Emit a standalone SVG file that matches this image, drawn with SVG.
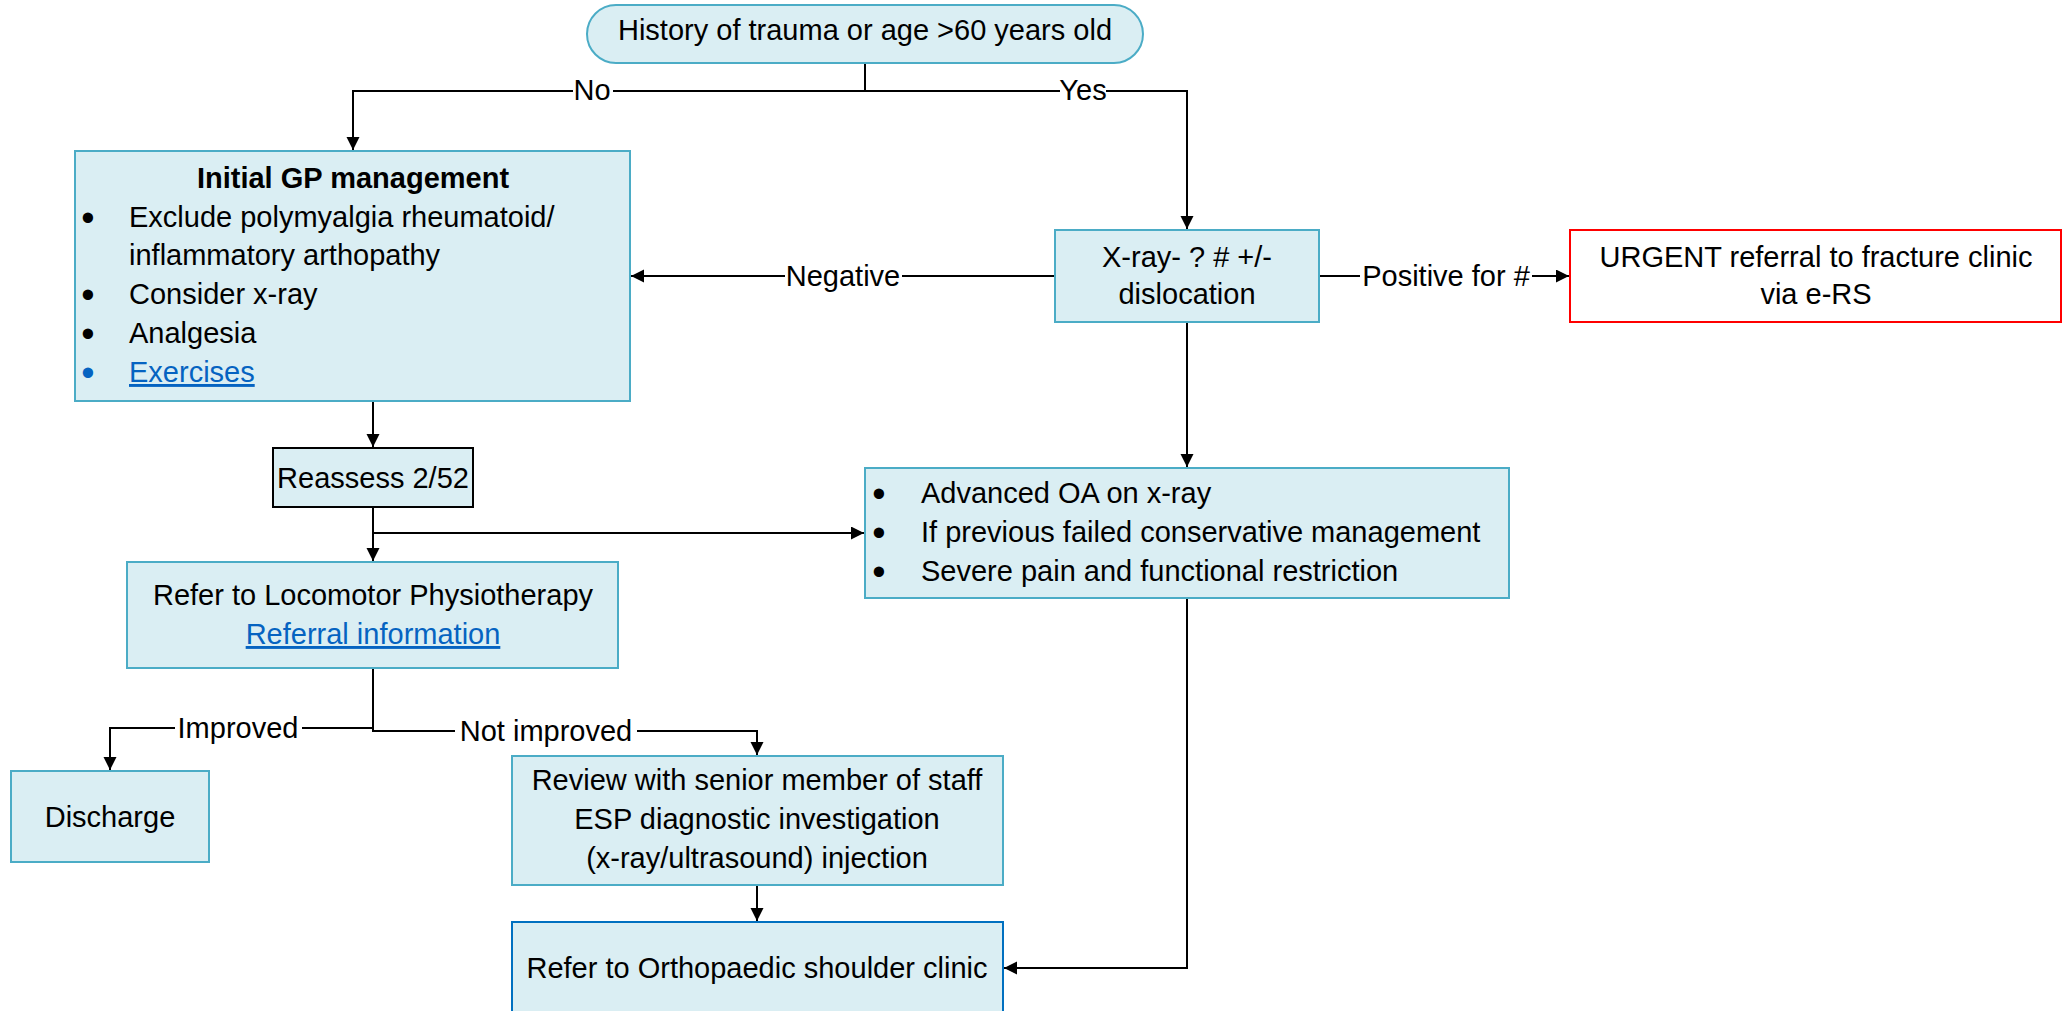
<svg xmlns="http://www.w3.org/2000/svg" width="2070" height="1011" viewBox="0 0 2070 1011">
<style>
.box{fill:#DAEEF3;stroke:#4BACC6;stroke-width:2}
.t{font-family:"Liberation Sans",Arial,sans-serif;font-size:29px;fill:#000}
.c{text-anchor:middle}
.b{font-weight:bold}
.bu{font-size:38px}
.link{fill:#0563C1;text-decoration:underline}
.con{fill:none;stroke:#000;stroke-width:2}
.lbg{fill:#fff}
</style>
<defs>
<marker id="ah" markerUnits="userSpaceOnUse" markerWidth="14" markerHeight="14" refX="13" refY="6.5" orient="auto">
<path d="M0,0 L13,6.5 L0,13 z" fill="#000"/>
</marker>
</defs>
<rect width="2070" height="1011" fill="#fff"/>
<g id="connectors">
<path class="con" d="M865,63 V91"/>
<path class="con" d="M865,91 H353 V150" marker-end="url(#ah)"/>
<path class="con" d="M865,91 H1187 V229" marker-end="url(#ah)"/>
<path class="con" d="M1055,276 H631" marker-end="url(#ah)"/>
<path class="con" d="M1319,276 H1569" marker-end="url(#ah)"/>
<path class="con" d="M1187,322 V467" marker-end="url(#ah)"/>
<path class="con" d="M237,400 H373 V447" marker-end="url(#ah)"/>
<path class="con" d="M373,507 V561" marker-end="url(#ah)"/>
<path class="con" d="M373,533 H864" marker-end="url(#ah)"/>
<path class="con" d="M373,668 V728 H110 V770" marker-end="url(#ah)"/>
<path class="con" d="M373,728 V731 H757 V755" marker-end="url(#ah)"/>
<path class="con" d="M757,885 V921" marker-end="url(#ah)"/>
<path class="con" d="M1187,598 V968 H1004" marker-end="url(#ah)"/>
<rect class="lbg" x="573" y="78" width="40" height="28"/>
<text class="t c" x="592" y="100">No</text>
<rect class="lbg" x="1060" y="78" width="46" height="28"/>
<text class="t c" x="1083" y="100">Yes</text>
<rect class="lbg" x="785" y="263" width="117" height="28"/>
<text class="t c" x="843" y="286">Negative</text>
<rect class="lbg" x="1360" y="263" width="172" height="28"/>
<text class="t c" x="1446" y="286">Positive for #</text>
<rect class="lbg" x="175" y="715" width="127" height="28"/>
<text class="t c" x="238" y="738">Improved</text>
<rect class="lbg" x="455" y="718" width="182" height="28"/>
<text class="t c" x="546" y="741">Not improved</text>
</g>
<g id="start">
<rect class="box" x="587" y="5" width="556" height="58" rx="29" ry="29"/>
<text class="t c" x="865" y="40">History of trauma or age &gt;60 years old</text>
</g>
<g id="gp">
<rect class="box" x="75" y="151" width="555" height="250"/>
<text class="t c b" x="353" y="188">Initial GP management</text>
<text class="t c bu" x="88" y="231">•</text>
<text class="t" x="129" y="227">Exclude polymyalgia rheumatoid/</text>
<text class="t" x="129" y="265">inflammatory arthopathy</text>
<text class="t c bu" x="88" y="308">•</text>
<text class="t" x="129" y="304">Consider x-ray</text>
<text class="t c bu" x="88" y="347">•</text>
<text class="t" x="129" y="343">Analgesia</text>
<text class="t c bu" x="88" y="386" style="fill:#0563C1">•</text>
<text class="t link" x="129" y="382">Exercises</text>
</g>
<g id="xray">
<rect class="box" x="1055" y="230" width="264" height="92"/>
<text class="t c" x="1187" y="267">X-ray- ? # +/-</text>
<text class="t c" x="1187" y="304">dislocation</text>
</g>
<g id="urgent">
<rect x="1570" y="230" width="491" height="92" fill="#fff" stroke="#FF0000" stroke-width="2"/>
<text class="t c" x="1816" y="267">URGENT referral to fracture clinic</text>
<text class="t c" x="1816" y="304">via e-RS</text>
</g>
<g id="reassess">
<rect x="273" y="448" width="200" height="59" fill="#DAEEF3" stroke="#000" stroke-width="2"/>
<text class="t c" x="373" y="488">Reassess 2/52</text>
</g>
<g id="oa">
<rect class="box" x="865" y="468" width="644" height="130"/>
<text class="t c bu" x="879" y="507">•</text>
<text class="t" x="921" y="503">Advanced OA on x-ray</text>
<text class="t c bu" x="879" y="546">•</text>
<text class="t" x="921" y="542">If previous failed conservative management</text>
<text class="t c bu" x="879" y="585">•</text>
<text class="t" x="921" y="581">Severe pain and functional restriction</text>
</g>
<g id="physio">
<rect class="box" x="127" y="562" width="491" height="106"/>
<text class="t c" x="373" y="605">Refer to Locomotor Physiotherapy</text>
<text class="t c link" x="373" y="644">Referral information</text>
</g>
<g id="discharge">
<rect class="box" x="11" y="771" width="198" height="91"/>
<text class="t c" x="110" y="827">Discharge</text>
</g>
<g id="review">
<rect class="box" x="512" y="756" width="491" height="129"/>
<text class="t c" x="757" y="790">Review with senior member of staff</text>
<text class="t c" x="757" y="829">ESP diagnostic investigation</text>
<text class="t c" x="757" y="868">(x-ray/ultrasound) injection</text>
</g>
<g id="ortho">
<rect x="512" y="922" width="491" height="110" fill="#DAEEF3" stroke="#0070C0" stroke-width="2"/>
<text class="t c" x="757" y="978">Refer to Orthopaedic shoulder clinic</text>
</g>
</svg>
